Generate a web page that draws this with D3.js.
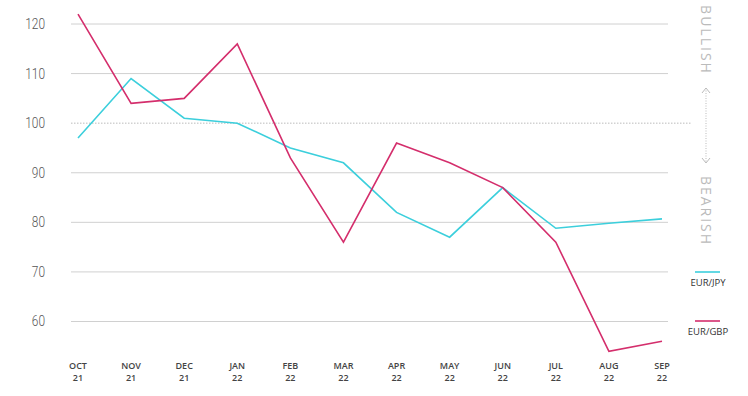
<!DOCTYPE html>
<html>
<head>
<meta charset="utf-8">
<script src="https://cdn.jsdelivr.net/npm/d3@7"></script>
<style>
  body { margin: 0; background: #fff; }
  svg { display: block; font-family: "Open Sans", sans-serif; }
</style>
</head>
<body>
<svg id="chart" width="748" height="396"></svg>
<script>
const months = ["OCT 21","NOV 21","DEC 21","JAN 22","FEB 22","MAR 22","APR 22","MAY 22","JUN 22","JUL 22","AUG 22","SEP 22"];
const eurJpy = [97, 109, 101, 100, 95, 92, 82, 77, 87, 78.8, 79.8, 80.7];
const eurGbp = [122, 104, 105, 116, 93, 76, 96, 92, 87, 76, 54, 56];
const yTicks = [60, 70, 80, 90, 100, 110, 120];

const svg = d3.select("#chart");
const x = d3.scalePoint().domain(months).range([78, 662]);
const y = d3.scaleLinear().domain([60, 120]).range([321.5, 24]);

// grid
yTicks.forEach(t => {
  svg.append("line")
    .attr("x1", 71).attr("x2", t === 100 ? 692 : 668)
    .attr("y1", y(t)).attr("y2", y(t))
    .attr("stroke", t === 100 ? "#bbb" : "#d0d0d0")
    .attr("stroke-width", 1)
    .attr("stroke-dasharray", t === 100 ? "1.5,1.5" : null);
  svg.append("text")
    .attr("x", 45).attr("y", y(t) + 5)
    .attr("text-anchor", "end")
    .attr("font-family", "Roboto")
    .attr("font-weight", 300)
    .attr("font-size", 14)
    .attr("fill", "#555")
    .attr("transform", `translate(45,0) scale(0.85,1) translate(-45,0)`)
    .text(t);
});

// x labels
months.forEach(m => {
  const [a, b] = m.split(" ");
  const t = svg.append("text")
    .attr("text-anchor", "middle")
    .attr("font-size", 9)
    .attr("font-weight", 600)
    .attr("fill", "#444");
  t.append("tspan").attr("x", x(m)).attr("y", 369).text(a);
  t.append("tspan").attr("x", x(m)).attr("y", 381).text(b);
});

const line = d3.line().x((d, i) => x(months[i])).y(d => y(d));

svg.append("path").datum(eurJpy)
  .attr("d", line).attr("fill", "none")
  .attr("stroke", "#3ccfdc").attr("stroke-width", 1.6);
svg.append("path").datum(eurGbp)
  .attr("d", line).attr("fill", "none")
  .attr("stroke", "#d42e6c").attr("stroke-width", 1.6);

// bullish / bearish
const side = svg.append("g").attr("fill", "#bbb").attr("font-size", 14).attr("letter-spacing", 2);
side.append("text")
  .attr("transform", "translate(701,40) rotate(90)")
  .attr("text-anchor", "middle")
  .text("BULLISH");
side.append("text")
  .attr("transform", "translate(701,211) rotate(90)")
  .attr("text-anchor", "middle")
  .text("BEARISH");
svg.append("line")
  .attr("x1", 706).attr("x2", 706).attr("y1", 88).attr("y2", 163)
  .attr("stroke", "#bbb").attr("stroke-dasharray", "1,1.5");
svg.append("path")
  .attr("d", "M702,93 L706,88 L710,93")
  .attr("fill", "none").attr("stroke", "#bbb");
svg.append("path")
  .attr("d", "M702,158 L706,163 L710,158")
  .attr("fill", "none").attr("stroke", "#bbb");

// legend
const legend = [["EUR/JPY", "#3ccfdc", 272], ["EUR/GBP", "#d42e6c", 321]];
legend.forEach(([name, c, ly]) => {
  svg.append("line")
    .attr("x1", 695).attr("x2", 720).attr("y1", ly).attr("y2", ly)
    .attr("stroke", c).attr("stroke-width", 1.6);
  svg.append("text")
    .attr("x", 708).attr("y", ly + 14)
    .attr("text-anchor", "middle")
    .attr("font-size", 9.5)
    .attr("fill", "#333")
    .text(name);
});
</script>
</body>
</html>
